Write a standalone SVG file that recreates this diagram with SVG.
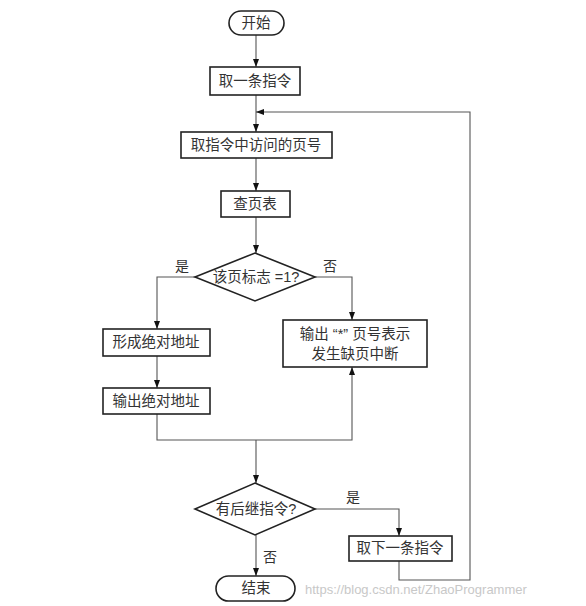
<svg xmlns="http://www.w3.org/2000/svg" width="586" height="606" viewBox="0 0 586 606">
<style>
.box{fill:#fff;stroke:#222;stroke-width:1.6}
.ln{fill:none;stroke:#555;stroke-width:1.1}
.t{font-family:"Liberation Sans","Noto Sans CJK SC",sans-serif;font-size:14.5px;fill:#333;text-anchor:middle;dominant-baseline:central}
.lb{font-family:"Noto Sans CJK SC",sans-serif;font-size:14px;fill:#333;text-anchor:middle;dominant-baseline:central}
.wm{font-family:"Liberation Sans",sans-serif;font-size:13px;fill:#c8c8c8}
</style>
<defs>
<marker id="ar" viewBox="0 0 8 10" refX="8" refY="5" markerWidth="8" markerHeight="10" markerUnits="userSpaceOnUse" orient="auto">
<path d="M0,2 L8,5 L0,8 Z" fill="#111"/>
</marker>
</defs>
<g id="connectors">
<path class="ln" d="M256,35 V67" marker-end="url(#ar)"/>
<path class="ln" d="M256,95 V132" marker-end="url(#ar)"/>
<path class="ln" d="M256,158 V191" marker-end="url(#ar)"/>
<path class="ln" d="M256,217 V253" marker-end="url(#ar)"/>
<path class="ln" d="M195,277 H157 V329" marker-end="url(#ar)"/>
<path class="ln" d="M157,356 V388" marker-end="url(#ar)"/>
<path class="ln" d="M315,277 H352 V320" marker-end="url(#ar)"/>
<path class="ln" d="M157,414 V440 H352 V367" marker-end="url(#ar)"/>
<path class="ln" d="M256,440 V483" marker-end="url(#ar)"/>
<path class="ln" d="M315,509 H399 V536" marker-end="url(#ar)"/>
<path class="ln" d="M256,533 V576" marker-end="url(#ar)"/>
<path class="ln" d="M399,561 V580 H470 V112 H256" marker-end="url(#ar)"/>
</g>
<g id="start"><rect class="box" x="229" y="11" width="55" height="24" rx="12"/><text class="t" x="256" y="23">开始</text></g>
<g id="fetch"><rect class="box" x="210" y="67" width="90" height="28"/><text class="t" x="255" y="81">取一条指令</text></g>
<g id="getpage"><rect class="box" x="181" y="132" width="151" height="26"/><text class="t" x="256" y="145">取指令中访问的页号</text></g>
<g id="lookup"><rect class="box" x="221" y="191" width="69" height="26"/><text class="t" x="255" y="204">查页表</text></g>
<g id="dec1"><polygon class="box" points="255,253 315,277 255,301 195,277"/><text class="t" x="256" y="277">该页标志 =1?</text></g>
<text class="lb" x="182" y="265">是</text>
<text class="lb" x="330" y="265">否</text>
<g id="form"><rect class="box" x="103" y="329" width="107" height="27"/><text class="t" x="156" y="342">形成绝对地址</text></g>
<g id="output"><rect class="box" x="103" y="388" width="107" height="26"/><text class="t" x="156" y="401">输出绝对地址</text></g>
<g id="fault"><rect class="box" x="283" y="320" width="144" height="47"/><text class="t" x="355" y="334">输出 “*” 页号表示</text><text class="t" x="355" y="354">发生缺页中断</text></g>
<g id="dec2"><polygon class="box" points="255,483 315,509 255,535 195,509"/><text class="t" x="256" y="509">有后继指令?</text></g>
<text class="lb" x="353" y="496">是</text>
<text class="lb" x="270" y="556">否</text>
<g id="next"><rect class="box" x="349" y="536" width="103" height="25"/><text class="t" x="400" y="548">取下一条指令</text></g>
<g id="end"><rect class="box" x="216" y="576" width="79" height="25" rx="12.5"/><text class="t" x="256" y="588">结束</text></g>
<text class="wm" x="305" y="594">https://blog.csdn.net/ZhaoProgrammer</text>
</svg>
